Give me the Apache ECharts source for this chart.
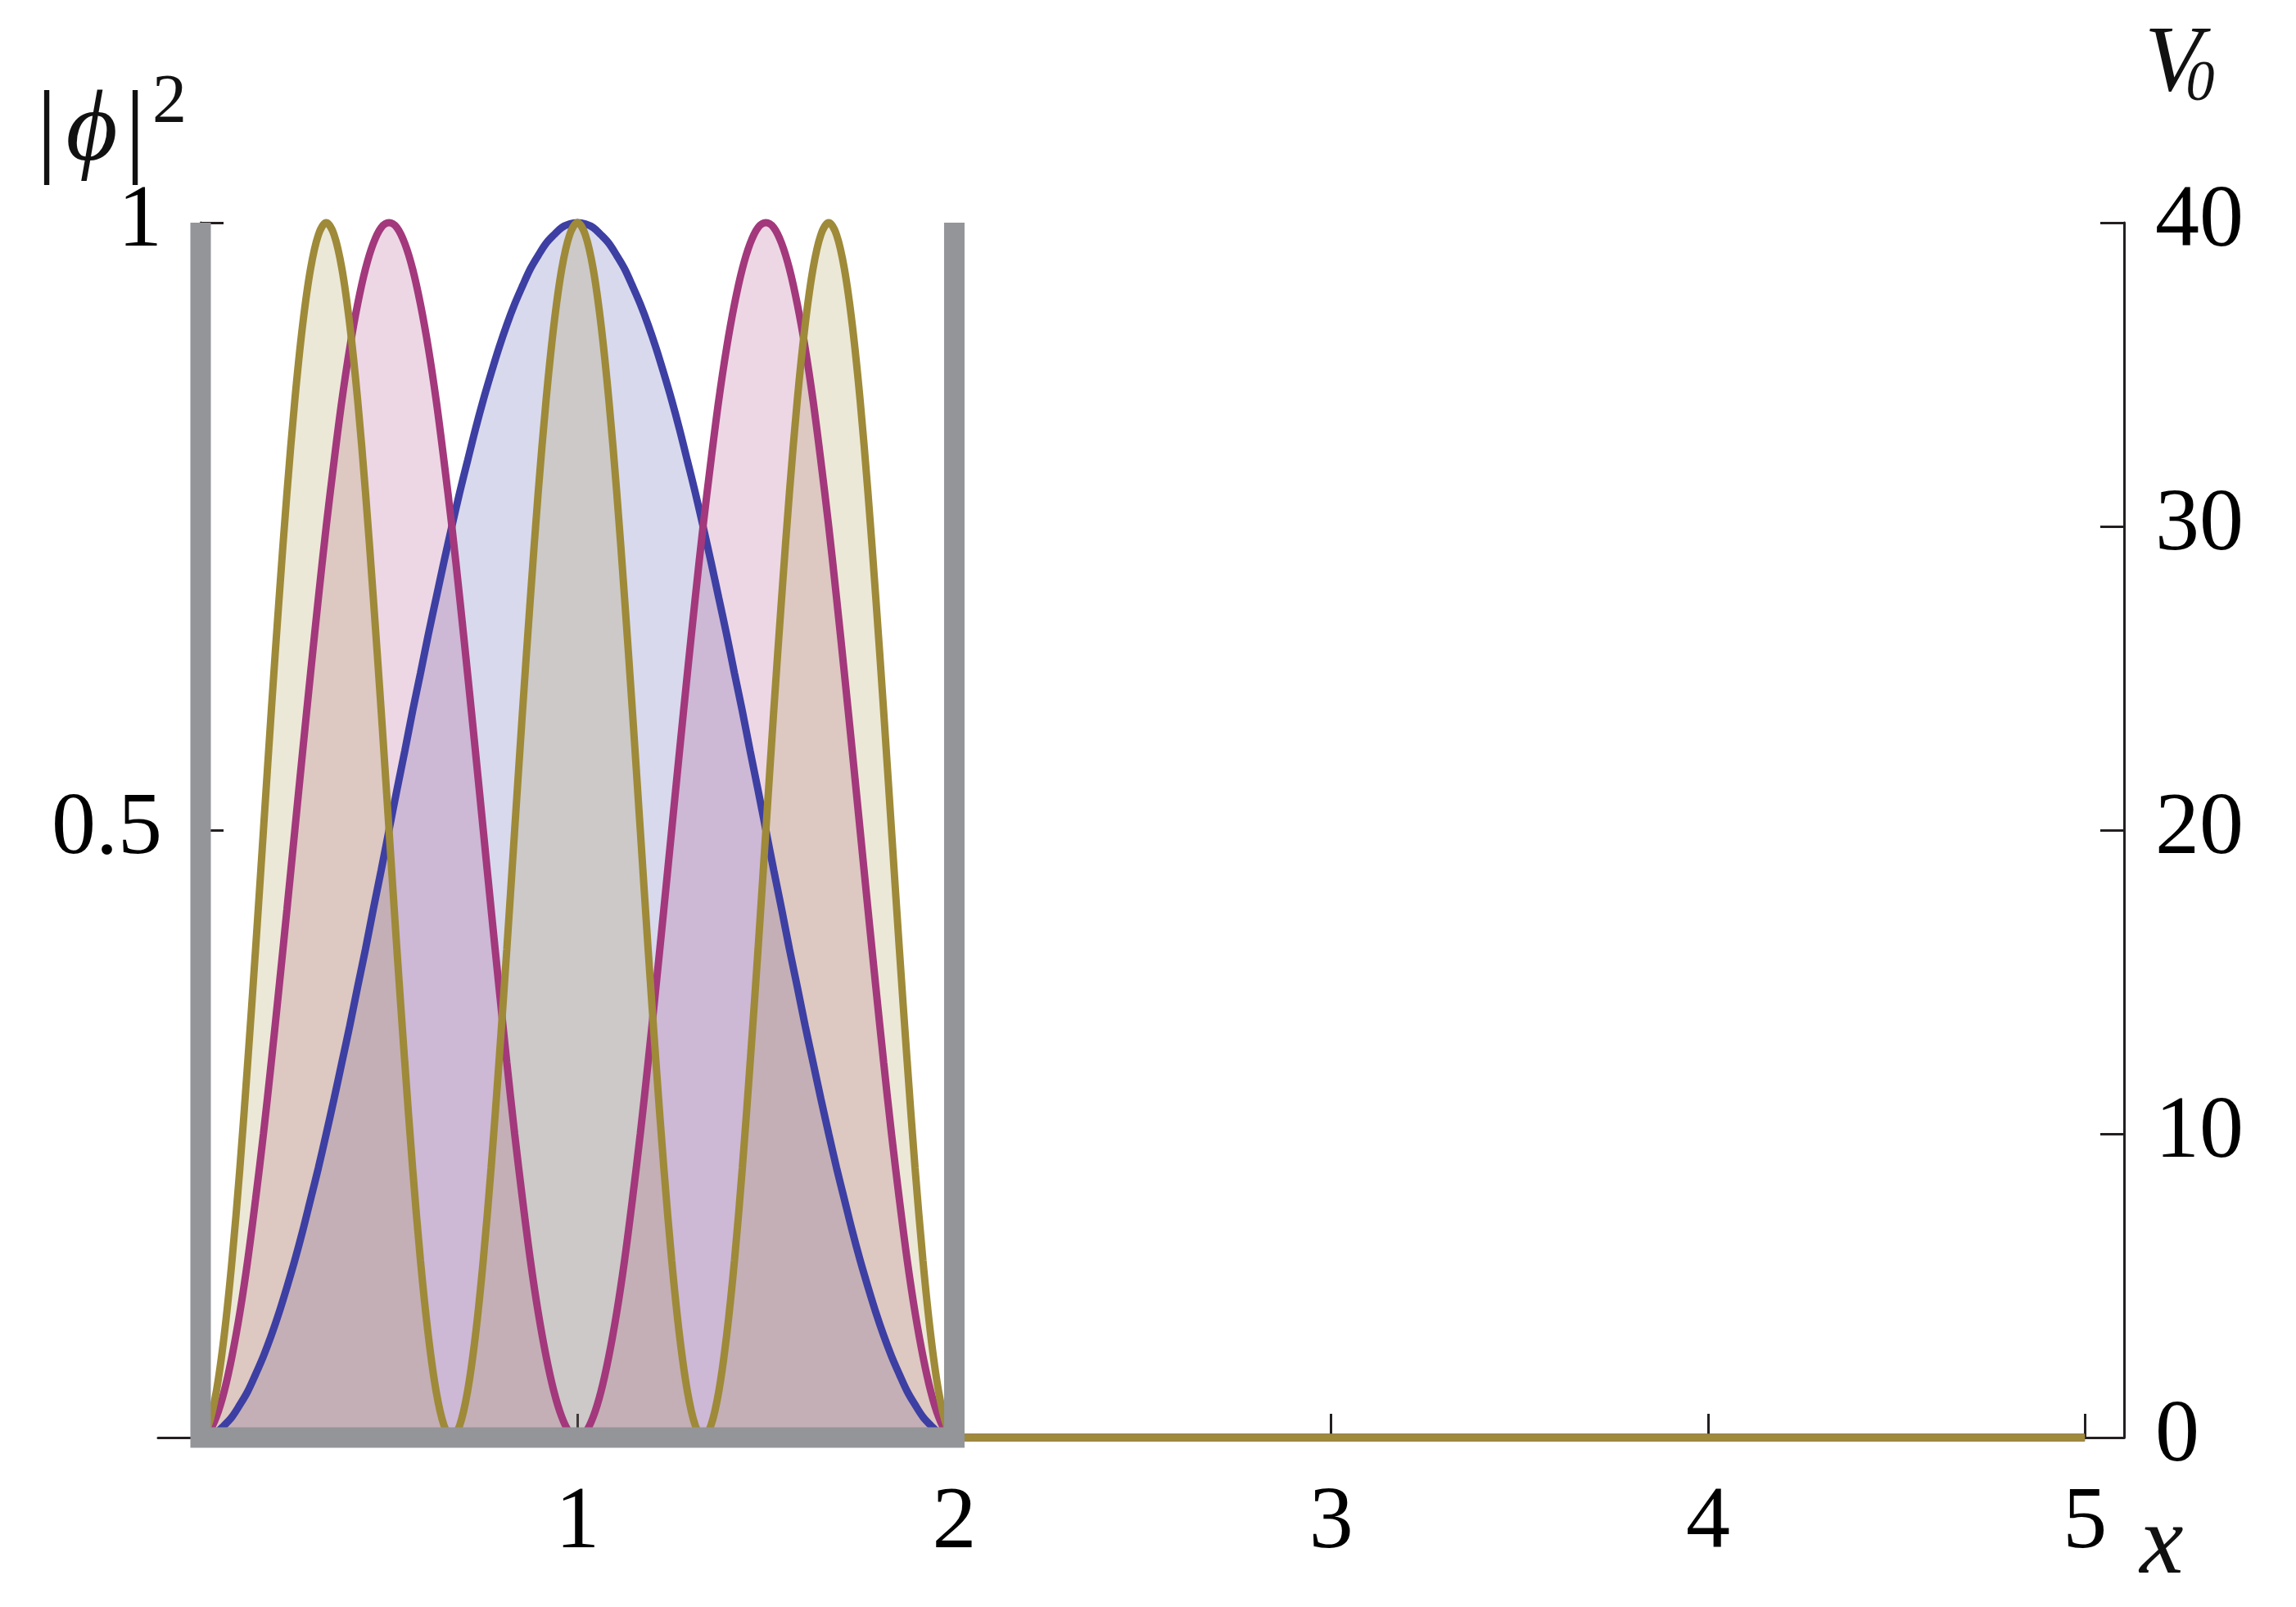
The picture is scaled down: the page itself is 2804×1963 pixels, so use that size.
<!DOCTYPE html>
<html>
<head>
<meta charset="utf-8">
<script src="https://cdn.jsdelivr.net/npm/echarts@6/dist/echarts.min.js"></script>
<style>
  html, body { margin: 0; padding: 0; background: #ffffff; }
  #chart { width: 2804px; height: 1963px; }
</style>
</head>
<body>
<div id="chart"></div>
<script>
// x samples inside the well (0..2), then zero out to x = 5
const xs = [0, 0.0208, 0.0417, 0.0625, 0.0833, 0.1042, 0.125, 0.1458, 0.1667, 0.1875, 0.2083, 0.2292,
  0.25, 0.2708, 0.2917, 0.3125, 0.3333, 0.3542, 0.375, 0.3958, 0.4167, 0.4375, 0.4583, 0.4792,
  0.5, 0.5208, 0.5417, 0.5625, 0.5833, 0.6042, 0.625, 0.6458, 0.6667, 0.6875, 0.7083, 0.7292,
  0.75, 0.7708, 0.7917, 0.8125, 0.8333, 0.8542, 0.875, 0.8958, 0.9167, 0.9375, 0.9583, 0.9792,
  1, 1.0208, 1.0417, 1.0625, 1.0833, 1.1042, 1.125, 1.1458, 1.1667, 1.1875, 1.2083, 1.2292,
  1.25, 1.2708, 1.2917, 1.3125, 1.3333, 1.3542, 1.375, 1.3958, 1.4167, 1.4375, 1.4583, 1.4792,
  1.5, 1.5208, 1.5417, 1.5625, 1.5833, 1.6042, 1.625, 1.6458, 1.6667, 1.6875, 1.7083, 1.7292,
  1.75, 1.7708, 1.7917, 1.8125, 1.8333, 1.8542, 1.875, 1.8958, 1.9167, 1.9375, 1.9583, 1.9792,
  2, 5];

// |phi|^2 of the three states
const ground = [0, 0.001, 0.004, 0.010, 0.017, 0.027, 0.038, 0.052, 0.067, 0.084, 0.103, 0.124,
  0.146, 0.170, 0.196, 0.222, 0.25, 0.279, 0.309, 0.339, 0.371, 0.402, 0.435, 0.467,
  0.5, 0.533, 0.565, 0.598, 0.629, 0.661, 0.691, 0.721, 0.75, 0.778, 0.804, 0.830,
  0.854, 0.876, 0.897, 0.916, 0.933, 0.948, 0.962, 0.973, 0.983, 0.990, 0.996, 0.999,
  1, 0.999, 0.996, 0.990, 0.983, 0.973, 0.962, 0.948, 0.933, 0.916, 0.897, 0.876,
  0.854, 0.830, 0.804, 0.778, 0.75, 0.721, 0.691, 0.661, 0.629, 0.598, 0.565, 0.533,
  0.5, 0.467, 0.435, 0.402, 0.371, 0.339, 0.309, 0.279, 0.25, 0.222, 0.196, 0.170,
  0.146, 0.124, 0.103, 0.084, 0.067, 0.052, 0.038, 0.027, 0.017, 0.010, 0.004, 0.001,
  0, 0];
const second = [0, 0.004, 0.017, 0.038, 0.067, 0.103, 0.146, 0.196, 0.25, 0.309, 0.371, 0.435,
  0.5, 0.565, 0.629, 0.691, 0.75, 0.804, 0.854, 0.897, 0.933, 0.962, 0.983, 0.996,
  1, 0.996, 0.983, 0.962, 0.933, 0.897, 0.854, 0.804, 0.75, 0.691, 0.629, 0.565,
  0.5, 0.435, 0.371, 0.309, 0.25, 0.196, 0.146, 0.103, 0.067, 0.038, 0.017, 0.004,
  0, 0.004, 0.017, 0.038, 0.067, 0.103, 0.146, 0.196, 0.25, 0.309, 0.371, 0.435,
  0.5, 0.565, 0.629, 0.691, 0.75, 0.804, 0.854, 0.897, 0.933, 0.962, 0.983, 0.996,
  1, 0.996, 0.983, 0.962, 0.933, 0.897, 0.854, 0.804, 0.75, 0.691, 0.629, 0.565,
  0.5, 0.435, 0.371, 0.309, 0.25, 0.196, 0.146, 0.103, 0.067, 0.038, 0.017, 0.004,
  0, 0];
const third = [0, 0.010, 0.038, 0.084, 0.146, 0.222, 0.309, 0.402, 0.5, 0.598, 0.691, 0.778,
  0.854, 0.916, 0.962, 0.990, 1, 0.990, 0.962, 0.916, 0.854, 0.778, 0.691, 0.598,
  0.5, 0.402, 0.309, 0.222, 0.146, 0.084, 0.038, 0.010, 0, 0.010, 0.038, 0.084,
  0.146, 0.222, 0.309, 0.402, 0.5, 0.598, 0.691, 0.778, 0.854, 0.916, 0.962, 0.990,
  1, 0.990, 0.962, 0.916, 0.854, 0.778, 0.691, 0.598, 0.5, 0.402, 0.309, 0.222,
  0.146, 0.084, 0.038, 0.010, 0, 0.010, 0.038, 0.084, 0.146, 0.222, 0.309, 0.402,
  0.5, 0.598, 0.691, 0.778, 0.854, 0.916, 0.962, 0.990, 1, 0.990, 0.962, 0.916,
  0.854, 0.778, 0.691, 0.598, 0.5, 0.402, 0.309, 0.222, 0.146, 0.084, 0.038, 0.010,
  0, 0];

// potential V0 (right axis): infinite-well walls
const potX = [0, 0, 2, 2];
const potV = [40, 0, 0, 40];

const xTicks = [1, 2, 3, 4, 5];

const pair = (a, b) => a.map((v, i) => [v, b[i]]);

const serif = "'Liberation Serif','DejaVu Serif','Times New Roman',serif";
const ink = '#231f20';
const txt = '#111111';

function curve(name, data, color) {
  return {
    name: name,
    type: 'line',
    xAxisIndex: 0,
    yAxisIndex: 0,
    data: pair(xs, data),
    smooth: 0.35,
    showSymbol: false,
    symbol: 'none',
    clip: false,
    lineStyle: { color: color, width: 9 },
    areaStyle: { color: color, opacity: 0.2, origin: 'start' },
    itemStyle: { color: color },
    silent: true,
    z: 2
  };
}

function label(text, x, y, size, italic) {
  return {
    type: 'text',
    x: x, y: y,
    silent: true,
    style: {
      text: text,
      align: 'center',
      verticalAlign: 'middle',
      fontFamily: serif,
      fontStyle: italic ? 'italic' : 'normal',
      fontSize: size,
      fill: txt
    }
  };
}

const chart = echarts.init(document.getElementById('chart'), null, { renderer: 'canvas' });
chart.setOption({
  backgroundColor: '#ffffff',
  animation: false,
  grid: { left: 193, right: 210, top: 272, bottom: 207, containLabel: false },
  xAxis: {
    type: 'value',
    min: -0.113,
    max: 5.104,
    axisLine: { show: true, onZero: true, lineStyle: { color: ink, width: 3 } },
    axisTick: { show: true, inside: true, length: 29, customValues: xTicks, lineStyle: { color: ink, width: 3 } },
    axisLabel: { show: true, customValues: xTicks, margin: 52, color: '#000', fontFamily: serif, fontSize: 108 },
    splitLine: { show: false }
  },
  yAxis: [
    {
      type: 'value',
      min: 0,
      max: 1,
      interval: 0.5,
      position: 'left',
      offset: -52,
      axisLine: { show: true, onZero: false, lineStyle: { color: ink, width: 3 } },
      axisTick: { show: true, inside: true, length: 28, lineStyle: { color: ink, width: 3 } },
      axisLabel: {
        show: true, margin: 47, color: '#000', fontFamily: serif, fontSize: 108,
        formatter: function (v) { return v === 0 ? '' : String(v); }
      },
      splitLine: { show: false }
    },
    {
      type: 'value',
      min: 0,
      max: 40,
      interval: 10,
      position: 'right',
      axisLine: { show: true, onZero: false, lineStyle: { color: ink, width: 3 } },
      axisTick: { show: true, inside: true, length: 29, lineStyle: { color: ink, width: 3 } },
      axisLabel: { show: true, margin: 38, color: '#000', fontFamily: serif, fontSize: 108 },
      splitLine: { show: false }
    }
  ],
  series: [
    curve('n=1', ground, '#3d3fa3'),
    curve('n=2', second, '#a3387c'),
    curve('n=3', third, '#9e8a38'),
    {
      name: 'V0',
      type: 'line',
      xAxisIndex: 0,
      yAxisIndex: 1,
      data: pair(potX, potV),
      showSymbol: false,
      symbol: 'none',
      clip: false,
      silent: true,
      lineStyle: { color: '#939598', width: 25, join: 'miter', cap: 'butt' },
      z: 5
    }
  ],
  graphic: [
    // |phi|^2 (left axis title)
    label('|', 57, 165, 128, false),
    label('\u03D5', 112, 163, 122, true),
    label('|', 165, 165, 128, false),
    label('2', 207, 127, 84, false),
    // V0 (right axis title)
    label('V', 2654, 80, 114, true),
    label('0', 2687, 104, 70, true),
    // x (horizontal axis title)
    label('x', 2640, 1889, 120, true)
  ]
});
</script>
</body>
</html>
